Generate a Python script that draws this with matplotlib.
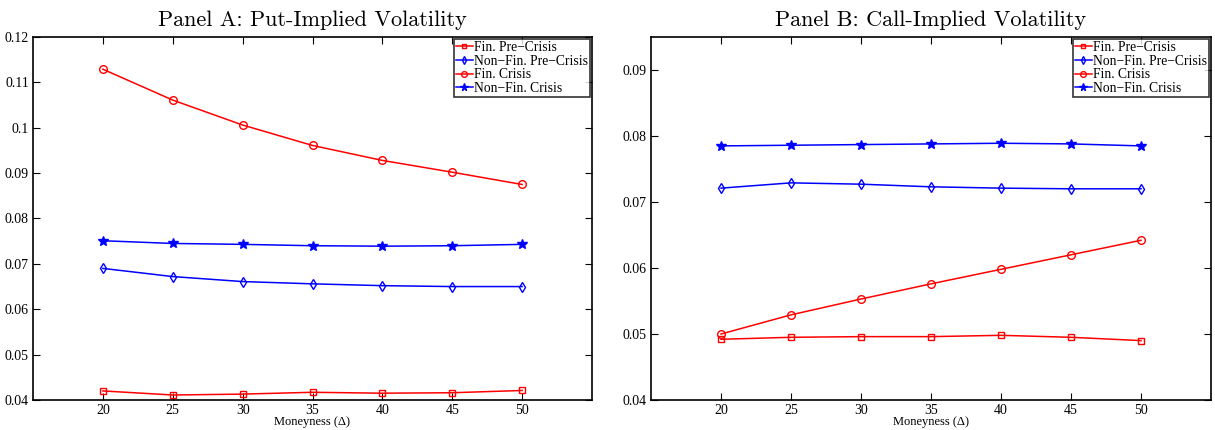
import matplotlib
matplotlib.use("Agg")
import matplotlib.pyplot as plt

moneyness = [20, 25, 30, 35, 40, 45, 50]
labels = ["Fin. Pre\u2212Crisis", "Non\u2212Fin. Pre\u2212Crisis", "Fin. Crisis", "Non\u2212Fin. Crisis"]

put_fin_pre = [0.0420, 0.0411, 0.0413, 0.0417, 0.0415, 0.0416, 0.0421]
put_nonfin_pre = [0.0690, 0.0672, 0.0661, 0.0656, 0.0652, 0.0650, 0.0650]
put_fin_crisis = [0.1129, 0.1061, 0.1006, 0.0961, 0.0928, 0.0902, 0.0875]
put_nonfin_crisis = [0.0751, 0.0745, 0.0743, 0.0740, 0.0739, 0.0740, 0.0743]

call_fin_pre = [0.0492, 0.0495, 0.0496, 0.0496, 0.0498, 0.0495, 0.0490]
call_nonfin_pre = [0.0721, 0.0729, 0.0727, 0.0723, 0.0721, 0.0720, 0.0720]
call_fin_crisis = [0.0500, 0.0529, 0.0553, 0.0576, 0.0598, 0.0620, 0.0642]
call_nonfin_crisis = [0.0785, 0.0786, 0.0787, 0.0788, 0.0789, 0.0788, 0.0785]

put_yticks = [0.04, 0.05, 0.06, 0.07, 0.08, 0.09, 0.1, 0.11, 0.12]
call_yticks = [0.04, 0.05, 0.06, 0.07, 0.08, 0.09]
put_ylabels = ["0.04", "0.05", "0.06", "0.07", "0.08", "0.09", "0.1", "0.11", "0.12"]
call_ylabels = ["0.04", "0.05", "0.06", "0.07", "0.08", "0.09"]

serif = ["Liberation Serif", "DejaVu Serif"]
plt.rcParams["font.family"] = serif

fig = plt.figure(figsize=(12.15, 4.30), dpi=100)
W, H = 1215, 430
ax1 = fig.add_axes([33 / W, 1 - 400 / H, (592 - 33) / W, (400 - 37) / H])
ax2 = fig.add_axes([651 / W, 1 - 400 / H, (1211 - 651) / W, (400 - 37) / H])

styles = [
    dict(color="red", marker="s", markersize=4.5, markerfacecolor="none"),
    dict(color="blue", marker="d", markersize=5.5, markerfacecolor="none"),
    dict(color="red", marker="o", markersize=5.5, markerfacecolor="none"),
    dict(color="blue", marker="*", markersize=7.5, markerfacecolor="blue"),
]

def draw(ax, series, ylim, yticks, ylabels, title):
    for s, lab, st in zip(series, labels, styles):
        ax.plot(moneyness, s, linewidth=1.1, markeredgewidth=1.0, label=lab, **st)
    ax.set_xlim(15, 55)
    ax.set_ylim(*ylim)
    ax.set_xticks(moneyness)
    ax.set_xticklabels([str(m) for m in moneyness], fontsize=10)
    ax.set_yticks(yticks)
    ax.set_yticklabels(ylabels, fontsize=10)
    ax.tick_params(direction="in", top=True, right=True, length=5, width=0.8, pad=3)
    for sp in ax.spines.values():
        sp.set_linewidth(1.2)
    ax.set_xlabel("Moneyness (\u0394)", fontsize=9, labelpad=-1)
    ax.set_title(title, fontsize=16, family=["cmr10", "DejaVu Serif"], pad=8)
    leg = ax.legend(loc="upper right", fontsize=9.8, frameon=True, fancybox=False,
                    borderpad=0.15, labelspacing=0.05, handlelength=1.2,
                    handletextpad=0.1, borderaxespad=0.15, markerscale=0.75)
    leg.get_frame().set_edgecolor("black")
    leg.get_frame().set_linewidth(1.2)

draw(ax1, [put_fin_pre, put_nonfin_pre, put_fin_crisis, put_nonfin_crisis],
     (0.04, 0.12), put_yticks, put_ylabels, "Panel A: Put-Implied Volatility")
draw(ax2, [call_fin_pre, call_nonfin_pre, call_fin_crisis, call_nonfin_crisis],
     (0.04, 0.095), call_yticks, call_ylabels, "Panel B: Call-Implied Volatility")

fig.savefig("out.png", dpi=100)
